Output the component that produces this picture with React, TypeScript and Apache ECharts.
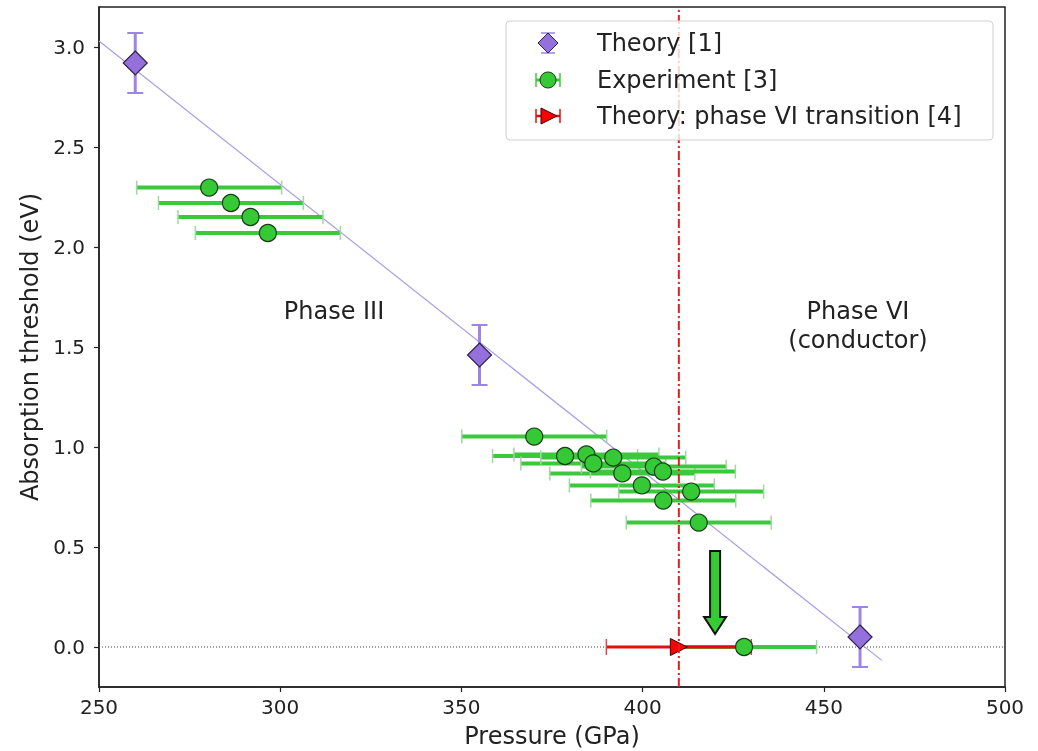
import React, { useEffect, useRef } from "react";
import * as echarts from "echarts";

// ---- data ----
const theoryP = [260, 355, 460];
const theoryE = [2.92, 1.46, 0.05];
const theoryErr = [0.15, 0.15, 0.15];

const expP = [280.4, 286.4, 291.8, 296.6, 370.1, 378.6, 384.5, 386.4, 391.9, 394.4, 403.1, 405.6, 399.8, 413.4, 405.7, 415.5, 428];
const expE = [2.297, 2.22, 2.15, 2.07, 1.052, 0.955, 0.963, 0.918, 0.947, 0.868, 0.902, 0.877, 0.808, 0.777, 0.732, 0.622, 0.0];
const expErr = [20, 20, 20, 20, 20, 20, 20, 20, 20, 20, 20, 20, 20, 20, 20, 20, 20];

const transP = [410];
const transE = [0.0];
const transErr = [20];

const fitLine = [[250, 3.03], [466, -0.067]];
const zeroLine = [[250, 0], [500, 0]];
const vLine = [[410, -0.2], [410, 3.2]];
const arrowData = [[420, 0.48, 0.065]];

const xTicks = [250, 300, 350, 400, 450, 500];
const yTicks = [0, 0.5, 1.0, 1.5, 2.0, 2.5, 3.0];

const FONT = "DejaVu Sans";

function hErr(color: string, width: number, capColor: string, capH: number) {
  return (params: any, api: any) => {
    const x = api.value(0), y = api.value(1), e = api.value(2);
    const a = api.coord([x - e, y]);
    const b = api.coord([x + e, y]);
    return {
      type: "group",
      children: [
        { type: "line", shape: { x1: a[0], y1: a[1], x2: b[0], y2: b[1] }, style: { stroke: color, lineWidth: width } },
        { type: "line", shape: { x1: a[0], y1: a[1] - capH, x2: a[0], y2: a[1] + capH }, style: { stroke: capColor, lineWidth: 1.5 } },
        { type: "line", shape: { x1: b[0], y1: b[1] - capH, x2: b[0], y2: b[1] + capH }, style: { stroke: capColor, lineWidth: 1.5 } },
      ],
    };
  };
}

function vErr(color: string, width: number, capW: number) {
  return (params: any, api: any) => {
    const x = api.value(0), y = api.value(1), e = api.value(2);
    const a = api.coord([x, y - e]);
    const b = api.coord([x, y + e]);
    return {
      type: "group",
      children: [
        { type: "line", shape: { x1: a[0], y1: a[1], x2: b[0], y2: b[1] }, style: { stroke: color, lineWidth: width } },
        { type: "line", shape: { x1: a[0] - capW, y1: a[1], x2: a[0] + capW, y2: a[1] }, style: { stroke: color, lineWidth: 2 } },
        { type: "line", shape: { x1: b[0] - capW, y1: b[1], x2: b[0] + capW, y2: b[1] }, style: { stroke: color, lineWidth: 2 } },
      ],
    };
  };
}

function arrowRender(params: any, api: any) {
  const x = api.value(0), y0 = api.value(1), y1 = api.value(2);
  const top = api.coord([x, y0]);
  const tip = api.coord([x, y1]);
  const cx = top[0];
  const sw = 5, hw = 11, hl = 17;
  const hb = tip[1] - hl;
  return {
    type: "polygon",
    shape: {
      points: [
        [cx - sw, top[1]], [cx + sw, top[1]], [cx + sw, hb], [cx + hw, hb],
        [cx, tip[1]], [cx - hw, hb], [cx - sw, hb],
      ],
    },
    style: { fill: "#33cc33", stroke: "#111", lineWidth: 2 },
  };
}

const PURPLE = "#9370DB";
const PURPLE_BAR = "#9b85e6";
const GREEN = "#36c936";
const GREEN_BAR = "#3cc83c";
const GREEN_CAP = "#9fd89f";
const RED = "#e01010";

export default function App() {
  const ref = useRef<HTMLDivElement>(null);
  useEffect(() => {
    if (!ref.current) return;
    const chart = echarts.init(ref.current, undefined, { renderer: "svg" });
    const legendX = 548;
    const txt = (text: string, x: number, y: number, align: string = "center", z = 102) => ({
      type: "text", x, y, z,
      style: { text, fontSize: 24, fontFamily: FONT, fill: "#222", align, verticalAlign: "middle" },
    });
    const option: any = {
      animation: false,
      textStyle: { fontFamily: FONT },
      grid: { left: 99, right: 33, top: 7, bottom: 64, show: true, borderColor: "#222", borderWidth: 1.5, backgroundColor: "transparent", outerBoundsMode: "none", containLabel: false },
      xAxis: {
        type: "value", min: 250, max: 500, interval: 50,
        name: "Pressure (GPa)", nameLocation: "middle", nameGap: 37,
        nameTextStyle: { fontSize: 24, color: "#222", fontFamily: FONT },
        axisLine: { show: true, onZero: false, lineStyle: { color: "#222", width: 1.5 } },
        axisTick: { show: true, inside: false, length: 5, lineStyle: { color: "#222", width: 1.2 } },
        axisLabel: { fontSize: 20, color: "#222", margin: 10, fontFamily: FONT, customValues: xTicks },
        splitLine: { show: false },
      },
      yAxis: {
        type: "value", min: -0.2, max: 3.2,
        name: "Absorption threshold (eV)", nameLocation: "middle", nameGap: 45,
        nameTextStyle: { fontSize: 24, color: "#222", fontFamily: FONT },
        axisLine: { show: true, onZero: false, lineStyle: { color: "#222", width: 1.5 } },
        axisTick: { show: true, inside: false, length: 5, lineStyle: { color: "#222", width: 1.2 }, customValues: yTicks },
        axisLabel: { fontSize: 20, color: "#222", margin: 14, fontFamily: FONT, customValues: yTicks, formatter: (v: number) => v.toFixed(1) },
        splitLine: { show: false },
      },
      series: [
        { type: "line", data: zeroLine, symbol: "none", lineStyle: { color: "#444", width: 1, type: [1, 2] }, z: 1, silent: true },
        { type: "line", data: fitLine, symbol: "none", lineStyle: { color: "#a99ce8", width: 1.2 }, z: 2, silent: true },
        { type: "custom", renderItem: vErr(PURPLE_BAR, 3, 8), data: theoryP.map((p, i) => [p, theoryE[i], theoryErr[i]]), encode: { x: 0, y: 1 }, z: 3 },
        { type: "scatter", data: theoryP.map((p, i) => [p, theoryE[i]]), symbol: "diamond", symbolSize: [24, 24], itemStyle: { color: PURPLE, borderColor: "#2e2448", borderWidth: 1.2, opacity: 1 }, z: 4 },
        { type: "custom", renderItem: hErr(GREEN_BAR, 4, GREEN_CAP, 7), data: expP.map((p, i) => [p, expE[i], expErr[i]]), encode: { x: 0, y: 1 }, z: 5 },
        { type: "custom", renderItem: hErr(RED, 3, "#e04848", 8), data: transP.map((p, i) => [p, transE[i], transErr[i]]), encode: { x: 0, y: 1 }, z: 6 },
        { type: "scatter", data: expP.map((p, i) => [p, expE[i]]), symbol: "circle", symbolSize: 17, itemStyle: { color: GREEN, borderColor: "#1a3a1a", borderWidth: 1.2, opacity: 1 }, z: 7 },
        { type: "scatter", data: transP.map((p, i) => [p, transE[i]]), symbol: "triangle", symbolRotate: -90, symbolSize: 17, itemStyle: { color: "#ff0000", borderColor: "#3a0000", borderWidth: 1, opacity: 1 }, z: 8 },
        { type: "line", data: vLine, symbol: "none", lineStyle: { color: "#e02020", width: 2, type: [9, 3, 2, 3] }, z: 9, silent: true },
        { type: "custom", renderItem: arrowRender, data: arrowData, encode: { x: 0, y: 1 }, z: 10 },
      ],
      graphic: [
        txt("Phase III", 334, 311, "center", 20),
        txt("Phase VI", 858, 311, "center", 20),
        txt("(conductor)", 858, 340, "center", 20),
        // legend
        { type: "rect", shape: { x: 506, y: 21, width: 487, height: 119, r: 4 }, style: { fill: "rgba(255,255,255,0.8)", stroke: "#d0d0d0", lineWidth: 1 }, z: 100 },
        // theory icon
        { type: "line", shape: { x1: legendX, y1: 33, x2: legendX, y2: 53 }, style: { stroke: PURPLE_BAR, lineWidth: 2.5 }, z: 101 },
        { type: "line", shape: { x1: legendX - 7, y1: 33, x2: legendX + 7, y2: 33 }, style: { stroke: PURPLE_BAR, lineWidth: 1.5 }, z: 101 },
        { type: "line", shape: { x1: legendX - 7, y1: 53, x2: legendX + 7, y2: 53 }, style: { stroke: PURPLE_BAR, lineWidth: 1.5 }, z: 101 },
        { type: "polygon", shape: { points: [[legendX, 33], [legendX + 10, 43], [legendX, 53], [legendX - 10, 43]] }, style: { fill: PURPLE, stroke: "#2e2448", lineWidth: 1 }, z: 102 },
        txt("Theory [1]", 597, 43, "left"),
        // experiment icon
        { type: "line", shape: { x1: legendX - 12, y1: 80, x2: legendX + 12, y2: 80 }, style: { stroke: GREEN_BAR, lineWidth: 3 }, z: 101 },
        { type: "line", shape: { x1: legendX - 12, y1: 73, x2: legendX - 12, y2: 87 }, style: { stroke: GREEN_BAR, lineWidth: 1.5 }, z: 101 },
        { type: "line", shape: { x1: legendX + 12, y1: 73, x2: legendX + 12, y2: 87 }, style: { stroke: GREEN_BAR, lineWidth: 1.5 }, z: 101 },
        { type: "circle", shape: { cx: legendX, cy: 80, r: 8 }, style: { fill: GREEN, stroke: "#1a3a1a", lineWidth: 1 }, z: 102 },
        txt("Experiment [3]", 597, 80, "left"),
        // transition icon
        { type: "line", shape: { x1: legendX - 12, y1: 116, x2: legendX + 12, y2: 116 }, style: { stroke: RED, lineWidth: 2.5 }, z: 101 },
        { type: "line", shape: { x1: legendX - 12, y1: 109, x2: legendX - 12, y2: 123 }, style: { stroke: RED, lineWidth: 1.5 }, z: 101 },
        { type: "line", shape: { x1: legendX + 12, y1: 109, x2: legendX + 12, y2: 123 }, style: { stroke: RED, lineWidth: 1.5 }, z: 101 },
        { type: "polygon", shape: { points: [[legendX - 7, 108], [legendX + 9, 116], [legendX - 7, 124]] }, style: { fill: "#ff0000", stroke: "#3a0000", lineWidth: 1 }, z: 102 },
        txt("Theory: phase VI transition [4]", 597, 116, "left"),
      ],
    };
    chart.setOption(option);
    return () => chart.dispose();
  }, []);
  return <div ref={ref} style={{ position: "fixed", left: 0, top: 0, width: 1038, height: 751 }} />;
}
